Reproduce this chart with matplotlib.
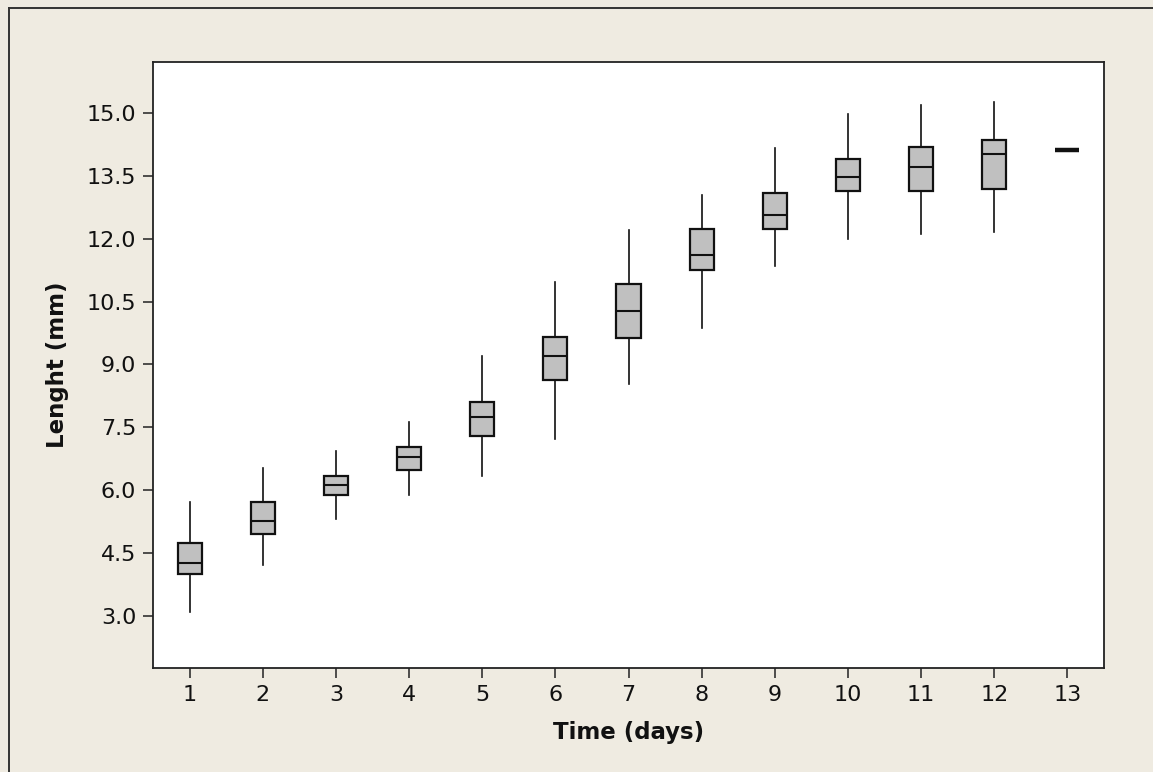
import matplotlib
matplotlib.use('Agg')
import matplotlib.pyplot as plt
from matplotlib.lines import Line2D

# daily length summaries (mm): whisker low, Q1, median, Q3, whisker high
days = [1, 2, 3, 4, 5, 6, 7, 8, 9, 10, 11, 12, 13]
whislo = [3.08, 4.22, 5.30, 5.88, 6.33, 7.21, 8.52, 9.86, 11.36, 12.00, 12.12, 12.15, 14.13]
q1 = [3.99, 4.96, 5.87, 6.48, 7.29, 8.63, 9.62, 11.26, 12.23, 13.15, 13.15, 13.18, 14.13]
med = [4.26, 5.26, 6.12, 6.80, 7.75, 9.20, 10.27, 11.62, 12.57, 13.48, 13.72, 14.02, 14.13]
q3 = [4.73, 5.72, 6.34, 7.03, 8.09, 9.66, 10.93, 12.23, 13.10, 13.90, 14.18, 14.36, 14.13]
whishi = [5.71, 6.52, 6.94, 7.62, 9.20, 10.97, 12.22, 13.04, 14.17, 14.98, 15.20, 15.27, 14.13]

yticks = [3.0, 4.5, 6.0, 7.5, 9.0, 10.5, 12.0, 13.5, 15.0]

bg = '#efebe1'
fig = plt.figure(figsize=(11.53, 7.72), dpi=100, facecolor=bg)
ax = fig.add_axes([153 / 1153, 1 - 668 / 772, 951 / 1153, 606 / 772])
ax.set_facecolor('white')

stats = []
for i in range(len(days)):
    stats.append(dict(whislo=whislo[i], q1=q1[i], med=med[i], q3=q3[i],
                      whishi=whishi[i], fliers=[], label=str(days[i])))

bp = ax.bxp(stats, positions=days, widths=0.33, patch_artist=True, showcaps=False,
            boxprops=dict(facecolor='#c0c0c0', edgecolor='#111111', linewidth=1.6),
            medianprops=dict(color='#111111', linewidth=1.5),
            whiskerprops=dict(color='#111111', linewidth=1.2))

# day 13 has a single value, the box collapses to a heavy bar
bp['medians'][-1].set_linewidth(3.2)

ax.set_xlim(0.5, 13.5)
ax.set_ylim(1.75, 16.22)
ax.set_xticks(days)
ax.set_xticklabels([str(d) for d in days])
ax.set_yticks(yticks)
ax.set_yticklabels(['%.1f' % t for t in yticks])

for s in ax.spines.values():
    s.set_color('#222222')
    s.set_linewidth(1.3)
ax.tick_params(direction='out', length=7, width=1.1, color='#222222',
               labelsize=16, labelcolor='#111111', pad=5)

ax.set_xlabel('Time (days)', fontsize=16.5, fontweight='bold', color='#111111')
ax.set_ylabel('Lenght (mm)', fontsize=16.5, fontweight='bold', color='#111111')
ax.xaxis.set_label_coords(0.5, -0.107)
ax.yaxis.set_label_coords(-0.1, 0.5)
ax.xaxis.label.set_va('center')
ax.yaxis.label.set_va('center')

# outer panel frame (top and left edges)
fx = 8.5 / 1153
fy = 1 - 7.5 / 772
fig.add_artist(Line2D([fx, fx], [0, fy], transform=fig.transFigure, color='#333333', lw=1.4))
fig.add_artist(Line2D([fx, 1], [fy, fy], transform=fig.transFigure, color='#333333', lw=1.4))

fig.savefig('out.png', dpi=100, facecolor=bg)
